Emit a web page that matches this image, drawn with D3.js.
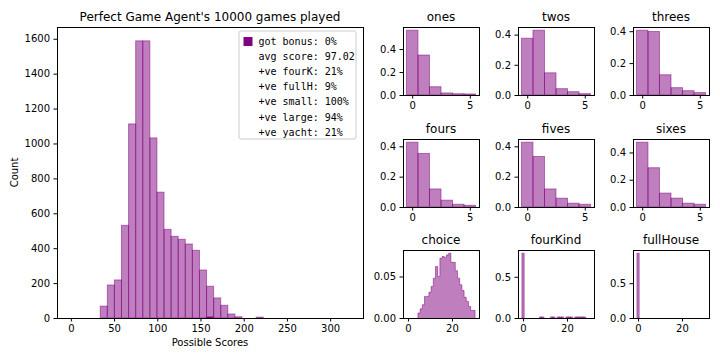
<!DOCTYPE html>
<html>
<head>
<meta charset="utf-8">
<script src="https://cdn.jsdelivr.net/npm/d3@7"></script>
<style>
  body { margin: 0; background: #fff; }
  text { font-family: 'DejaVu Sans', sans-serif; fill: #000; }
  .tick text { font-size: 10px; }
  .legend text { font-family: 'DejaVu Sans Mono', monospace; font-size: 10px; }
</style>
</head>
<body>
<div id="chart"></div>
<script>
// main histogram: total score per game
let mainBinStart = 34
let mainBinWidth = 8.2
let mainCounts = [68, 189, 218, 531, 1112, 1588, 1588, 1032, 721, 508, 468, 451, 424, 388, 275, 182, 115, 73, 23, 7, 0, 0, 5]
let bonusCounts = [0, 0, 0, 0, 0, 0, 0, 0, 0, 0, 0, 0, 0, 0, 0, 8, 0, 0, 0, 0, 0, 0, 0]
let mainXTicks = [0, 50, 100, 150, 200, 250, 300]
let mainYTicks = [0, 200, 400, 600, 800, 1000, 1200, 1400, 1600]

let legendLines = ['got bonus: 0%', 'avg score: 97.02', '+ve fourK: 21%', '+ve fullH: 9%',
  '+ve small: 100%', '+ve large: 94%', '+ve yacht: 21%']

// upper section densities, values 0..5
let upperValues = [0, 1, 2, 3, 4, 5]
let ones = [0.564, 0.348, 0.072, 0.018, 0.011, 0.009]
let twos = [0.376, 0.429, 0.147, 0.042, 0.022, 0.009]
let threes = [0.406, 0.398, 0.127, 0.046, 0.027, 0.015]
let fours = [0.427, 0.353, 0.119, 0.045, 0.018, 0.011]
let fives = [0.427, 0.333, 0.119, 0.058, 0.025, 0.018]
let sixes = [0.475, 0.288, 0.102, 0.065, 0.028, 0.020]

// lower section densities
let choiceValues = [5, 6, 7, 8, 9, 10, 11, 12, 13, 14, 15, 16, 17, 18, 19, 20, 21, 22, 23, 24, 25, 26, 27, 28, 29, 30]
let choice = [0.006, 0.011, 0.016, 0.026, 0.026, 0.031, 0.038, 0.048, 0.062, 0.050, 0.072, 0.074, 0.073, 0.076, 0.078,
  0.067, 0.067, 0.057, 0.048, 0.040, 0.033, 0.025, 0.020, 0.014, 0.009, 0.009]
let fourKindValues = [0, 8, 9, 13, 14, 16, 17, 18, 20, 21, 22, 24, 25, 26, 27, 28]
let fourKind = [0.786, 0.012, 0.012, 0.012, 0.012, 0.012, 0.012, 0.012, 0.012, 0.012, 0.012, 0.012, 0.012, 0.012, 0.012, 0.012]
let fullHouseValues = [0]
let fullHouse = [0.93]

let width = 720
let height = 360

let svg = d3
  .select('#chart')
  .append('svg')
  .attr('width', width)
  .attr('height', height)

let fillCol = 'purple'

function frame(g, w, h) {
  g.append('rect')
    .attr('x', 0).attr('y', 0)
    .attr('width', w).attr('height', h)
    .attr('fill', 'none')
    .attr('stroke', '#000')
    .attr('stroke-width', 1)
    .attr('shape-rendering', 'crispEdges')
}

function axes(g, x, y, h, xTicks, yTicks, yFmt) {
  let xa = g.append('g')
    .attr('transform', 'translate(0,' + h + ')')
    .call(d3.axisBottom(x).tickValues(xTicks).tickSize(3.5).tickPadding(3.5).tickFormat(d3.format('d')))
  let ya = g.append('g')
    .call(d3.axisLeft(y).tickValues(yTicks).tickSize(3.5).tickPadding(3.5).tickFormat(yFmt))
  xa.select('.domain').remove()
  ya.select('.domain').remove()
  g.selectAll('.tick text').attr('fill', '#000').style('font-family', 'DejaVu Sans')
  g.selectAll('.tick line').attr('stroke', '#000')
}

// ---------- main histogram ----------
let m = { left: 57, top: 27, w: 306, h: 291 }
let main = svg.append('g').attr('transform', 'translate(' + m.left + ',' + m.top + ')')

let x = d3.scaleLinear().domain([-16, 338]).range([0, m.w])
let y = d3.scaleLinear().domain([0, d3.max(mainCounts) * 1.05]).range([m.h, 0])

main.selectAll('rect.bar')
  .data(mainCounts)
  .enter()
  .append('rect')
  .attr('class', 'bar')
  .attr('x', (d, i) => x(mainBinStart + i * mainBinWidth))
  .attr('width', x(mainBinWidth) - x(0))
  .attr('y', d => y(d))
  .attr('height', d => m.h - y(d))
  .attr('fill', fillCol)
  .attr('fill-opacity', 0.5)
  .attr('stroke', fillCol)
  .attr('stroke-opacity', d => d > 0 ? 0.5 : 0)

main.selectAll('rect.bonus')
  .data(bonusCounts)
  .enter()
  .append('rect')
  .attr('class', 'bonus')
  .attr('x', (d, i) => x(mainBinStart + i * mainBinWidth))
  .attr('width', x(mainBinWidth) - x(0))
  .attr('y', d => y(d))
  .attr('height', d => m.h - y(d))
  .attr('fill', fillCol)
  .attr('opacity', d => d > 0 ? 1 : 0)

frame(main, m.w, m.h)
axes(main, x, y, m.h, mainXTicks, mainYTicks, d3.format('d'))

main.append('text')
  .attr('x', m.w / 2).attr('y', -6)
  .attr('text-anchor', 'middle')
  .style('font-size', '12px')
  .text("Perfect Game Agent's 10000 games played")

main.append('text')
  .attr('x', m.w / 2).attr('y', m.h + 28)
  .attr('text-anchor', 'middle')
  .style('font-size', '10px')
  .text('Possible Scores')

main.append('text')
  .attr('transform', 'translate(-39,' + (m.h / 2) + ') rotate(-90)')
  .attr('text-anchor', 'middle')
  .style('font-size', '10px')
  .text('Count')

// legend
let lg = main.append('g').attr('class', 'legend').attr('transform', 'translate(182,4)')
lg.append('rect')
  .attr('x', 0).attr('y', 0)
  .attr('width', 117).attr('height', 108)
  .attr('rx', 2)
  .attr('fill', '#fff').attr('fill-opacity', 0.8)
  .attr('stroke', '#ccc')
lg.append('rect')
  .attr('x', 4.5).attr('y', 6).attr('width', 9).attr('height', 9)
  .attr('fill', fillCol)
lg.selectAll('text.item')
  .data(legendLines)
  .enter()
  .append('text')
  .attr('class', 'item')
  .attr('x', 19.5)
  .attr('y', (d, i) => 13.5 + i * 15.2)
  .text(d => d)

// ---------- small panels ----------
let cols = [403, 518, 633]
let rows = [27, 139, 250]
let pw = 76
let ph = 68

let panels = [
  { name: 'ones', vals: upperValues, dens: ones, kind: 'upper' },
  { name: 'twos', vals: upperValues, dens: twos, kind: 'upper' },
  { name: 'threes', vals: upperValues, dens: threes, kind: 'upper' },
  { name: 'fours', vals: upperValues, dens: fours, kind: 'upper' },
  { name: 'fives', vals: upperValues, dens: fives, kind: 'upper' },
  { name: 'sixes', vals: upperValues, dens: sixes, kind: 'upper' },
  { name: 'choice', vals: choiceValues, dens: choice, kind: 'step' },
  { name: 'fourKind', vals: fourKindValues, dens: fourKind, kind: 'lower' },
  { name: 'fullHouse', vals: fullHouseValues, dens: fullHouse, kind: 'lower' }
]

panels.forEach(function(p, i) {
  let g = svg.append('g')
    .attr('transform', 'translate(' + cols[i % 3] + ',' + rows[Math.floor(i / 3)] + ')')
  let px, xTicks, yTicks, yFmt
  if (p.kind == 'upper') {
    px = d3.scaleLinear().domain([-0.8, 5.8]).range([0, pw])
    xTicks = [0, 5]
    yTicks = [0, 0.2, 0.4]
    yFmt = d3.format('.1f')
  } else {
    px = d3.scaleLinear().domain([-2.3, 32.3]).range([0, pw])
    xTicks = [0, 20]
    yTicks = p.kind == 'step' ? [0, 0.05] : [0, 0.5]
    yFmt = p.kind == 'step' ? d3.format('.2f') : d3.format('.1f')
  }
  let py = d3.scaleLinear().domain([0, d3.max(p.dens) * 1.05]).range([ph, 0])

  if (p.kind == 'step') {
    let pts = [[p.vals[0] - 0.5, 0]]
    p.vals.forEach(function(v, j) {
      pts.push([v - 0.5, p.dens[j]])
      pts.push([v + 0.5, p.dens[j]])
    })
    pts.push([p.vals[p.vals.length - 1] + 0.5, 0])
    g.append('path')
      .attr('d', d3.line().x(d => px(d[0])).y(d => py(d[1]))(pts))
      .attr('fill', fillCol)
      .attr('fill-opacity', 0.5)
      .attr('stroke', fillCol)
      .attr('stroke-opacity', 0.5)
  } else {
    g.selectAll('rect.bar')
      .data(p.dens)
      .enter()
      .append('rect')
      .attr('class', 'bar')
      .attr('x', (d, j) => px(p.vals[j] - 0.5))
      .attr('width', px(1) - px(0))
      .attr('y', d => py(d))
      .attr('height', d => ph - py(d))
      .attr('fill', fillCol)
      .attr('fill-opacity', 0.5)
      .attr('stroke', fillCol)
      .attr('stroke-opacity', 0.5)
  }

  frame(g, pw, ph)
  axes(g, px, py, ph, xTicks, yTicks, yFmt)

  g.append('text')
    .attr('x', pw / 2).attr('y', -6)
    .attr('text-anchor', 'middle')
    .style('font-size', '12px')
    .text(p.name)
})
</script>
</body>
</html>
